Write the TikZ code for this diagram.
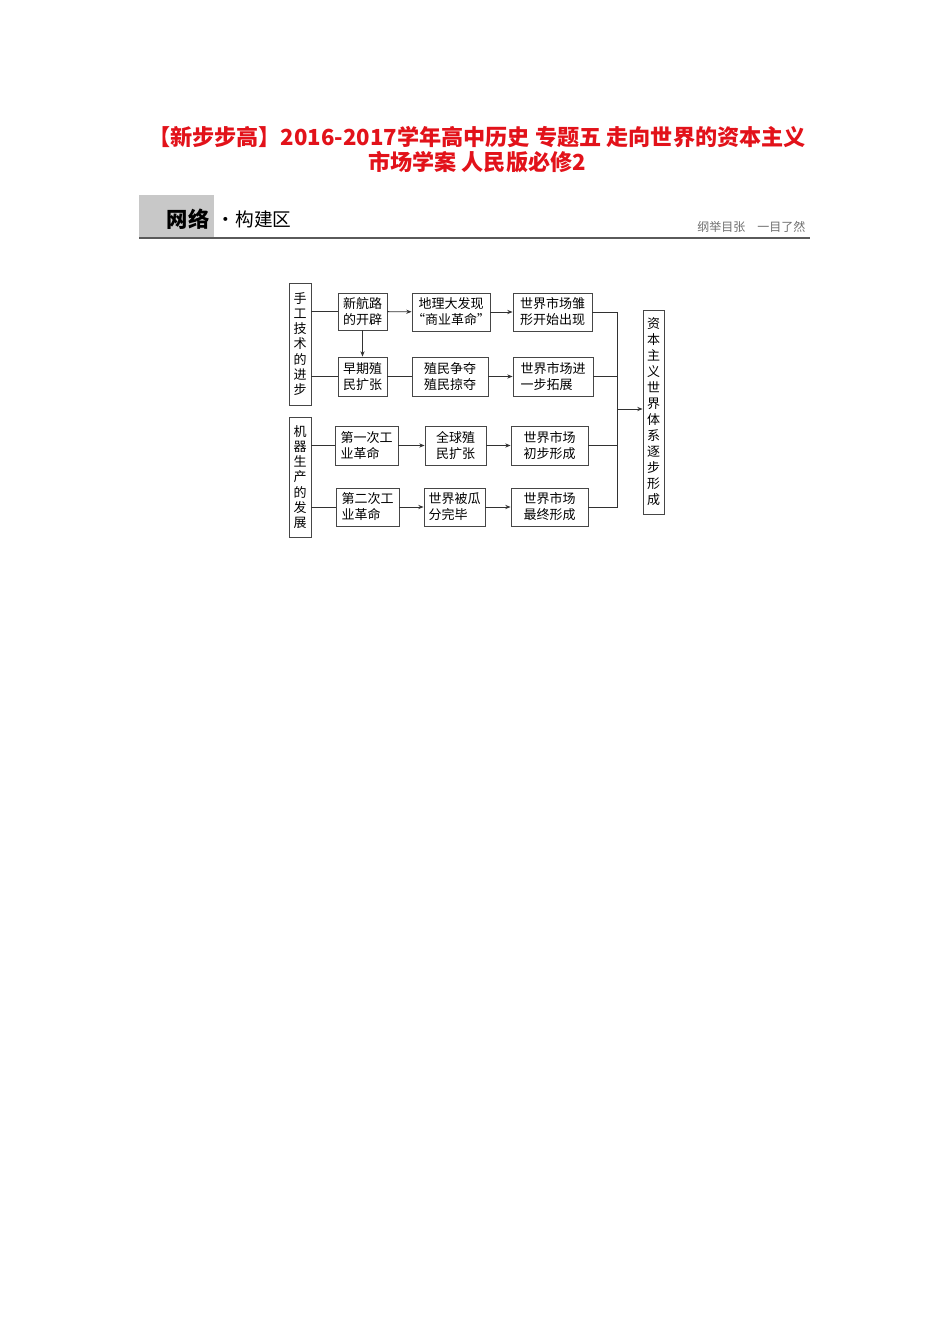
\documentclass[tikz,border=0pt]{standalone}
\usepackage{fontspec}
\usepackage{tikz}
\usetikzlibrary{arrows.meta,positioning}
\newfontfamily\cjk{Noto Sans CJK SC}
\definecolor{titlered}{RGB}{226,18,26}
\definecolor{hdrgray}{RGB}{200,200,200}
\definecolor{rulegray}{RGB}{90,90,90}
\definecolor{boxgray}{RGB}{70,70,70}
\definecolor{linegray}{RGB}{50,50,50}
\definecolor{slogangray}{RGB}{110,110,110}

\tikzset{
  box/.style={draw=boxgray, line width=0.65pt, rectangle, inner sep=0pt, align=left,
    font=\cjk\fontsize{9.75}{12}\selectfont},
  vbox/.style={box, align=center, minimum width=16.5pt, font=\cjk\fontsize{9.75}{11.4}\selectfont},
  link/.style={draw=linegray, line width=0.6pt},
  arr/.style={link, -{Stealth[length=4pt,width=3.2pt]}},
  title/.style={text=titlered, font=\cjk\bfseries\fontsize{16.6}{19}\selectfont},
}

\begin{document}
\begin{tikzpicture}[x=0.75pt, y=-0.75pt]
    \useasboundingbox (0,0) rectangle (950,1344);

    % title
    \node[title] (title1) at (477,137) {【新步步高】2016-2017学年高中历史 专题五 走向世界的资本主义};
    \node[title] (title2) at (477,162) {市场学案 人民版必修2};

    % header bar
    \fill[hdrgray] (139,195) rectangle (214,238);
    \node[font=\cjk\bfseries\fontsize{16}{18}\selectfont] (wangluo) at (188,219) {网络};
    \node[anchor=west, font=\cjk\fontsize{14}{16}\selectfont] (goujian) at (212,219) {·构建区};
    \node[anchor=east, text=slogangray, font=\cjk\fontsize{9}{10}\selectfont] (slogan) at (810,227) {纲举目张　一目了然};
    \draw[rulegray, line width=1.6pt] (139,238) -- (810,238);

    % left column
    \node[vbox, minimum height=91.5pt] (hand) at (300,344) {手\\工\\技\\术\\的\\进\\步};
    \node[vbox, minimum height=90pt] (machine) at (300,477) {机\\器\\生\\产\\的\\发\\展};

    % row 1
    \node[box, minimum width=36.75pt, minimum height=27.75pt] (route) at (362.5,311.5) {新航路\\的开辟};
    \node[box, minimum width=58.5pt, minimum height=28.5pt, align=center] (discover) at (451,312) {地理大发现\\“商业革命”};
    \node[box, minimum width=59.25pt, minimum height=28.5pt] (embryo) at (552.5,312) {世界市场雏\\形开始出现};

    % row 2
    \node[box, minimum width=36.75pt, minimum height=29.25pt] (early) at (362.5,376.5) {早期殖\\民扩张};
    \node[box, minimum width=57pt, minimum height=29.25pt] (plunder) at (450,376.5) {殖民争夺\\殖民掠夺};
    \node[box, minimum width=60pt, minimum height=29.25pt] (expand) at (553,376.5) {世界市场进\\一步拓展};

    % row 3
    \node[box, minimum width=47.25pt, minimum height=29.25pt] (first) at (366.5,445.5) {第一次工\\业革命};
    \node[box, minimum width=45.75pt, minimum height=29.25pt] (global) at (455.5,445.5) {全球殖\\民扩张};
    \node[box, minimum width=57.75pt, minimum height=29.25pt] (initial) at (549.5,445.5) {世界市场\\初步形成};

    % row 4
    \node[box, minimum width=47.25pt, minimum height=28.5pt] (second) at (367.5,507) {第二次工\\业革命};
    \node[box, minimum width=45.75pt, minimum height=28.5pt] (divided) at (454.5,507) {世界被瓜\\分完毕};
    \node[box, minimum width=57.75pt, minimum height=28.5pt] (final) at (549.5,507) {世界市场\\最终形成};

    % right column
    \node[vbox, minimum width=15.75pt, minimum height=153pt, font=\cjk\fontsize{9.75}{12}\selectfont] (system) at (653.5,412)
        {资\\本\\主\\义\\世\\界\\体\\系\\逐\\步\\形\\成};
    \coordinate (join) at (617,409);

    % connectors
    \draw[link] (hand.east |- route) -- (route);
    \draw[link] (hand.east |- early) -- (early);
    \draw[link] (machine.east |- first) -- (first);
    \draw[link] (machine.east |- second) -- (second);
    \draw[arr] (route) -- (discover);
    \draw[arr] (discover) -- (embryo);
    \draw[arr] (route) -- (early);
    \draw[link] (early) -- (plunder);
    \draw[arr] (plunder) -- (expand);
    \draw[arr] (first) -- (global);
    \draw[arr] (global) -- (initial);
    \draw[arr] (second) -- (divided);
    \draw[arr] (divided) -- (final);
    \draw[link] (embryo) -- (embryo -| join) -- (final -| join) -- (final);
    \draw[link] (expand) -- (expand -| join);
    \draw[link] (initial) -- (initial -| join);
    \draw[arr] (join) -- (join -| system.west);
\end{tikzpicture}
\end{document}
